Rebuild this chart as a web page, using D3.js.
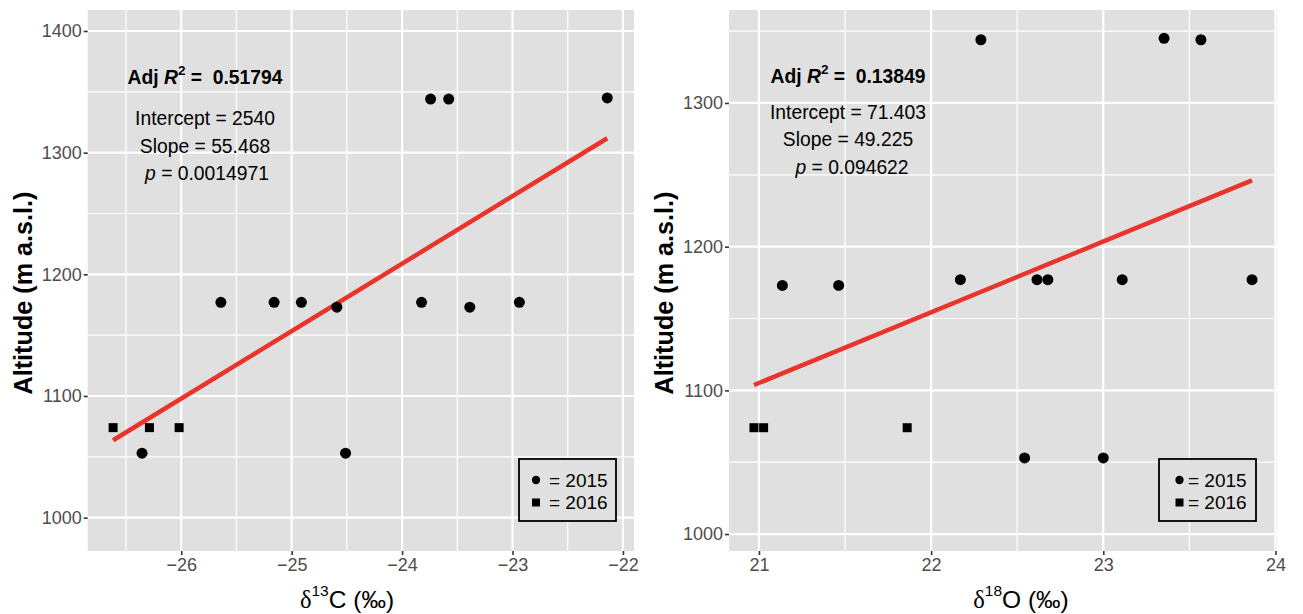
<!DOCTYPE html>
<html>
<head>
<meta charset="utf-8">
<script src="https://cdn.jsdelivr.net/npm/d3@7"></script>
<style>
  html, body { margin: 0; padding: 0; background: #ffffff; }
  svg { display: block; }
  text { font-family: "Liberation Sans", Arial, Helvetica, sans-serif; }
</style>
</head>
<body>
<svg id="chart" width="1303" height="614"></svg>
<script>
// ---------------- DATA ----------------
// Left panel: δ13C vs altitude
const c13_x2015 = [-26.355, -25.641, -25.159, -24.912, -24.591, -24.512, -23.824, -23.742, -23.578, -23.387, -22.938, -22.142];
const c13_y2015 = [1053, 1177, 1177, 1177, 1173, 1053, 1177, 1344, 1344, 1173, 1177, 1345];
const c13_x2016 = [-26.617, -26.288, -26.019];
const c13_y2016 = [1074, 1074, 1074];
const c13_fit = [2540, 55.468];            // intercept, slope
const c13_xTicks = [-26, -25, -24, -23, -22];
const c13_yTicks = [1000, 1100, 1200, 1300, 1400];
const c13_xDomain = [-26.847, -21.9];
const c13_yDomain = [972.6, 1417.25];
const c13_stats = ["0.51794", "2540", "55.468", "0.0014971"];

// Right panel: δ18O vs altitude
const o18_x2015 = [21.136, 21.463, 22.170, 22.289, 22.543, 22.615, 22.678, 23.000, 23.110, 23.353, 23.567, 23.864];
const o18_y2015 = [1173, 1173, 1177, 1344, 1053, 1177, 1177, 1053, 1177, 1345, 1344, 1177];
const o18_x2016 = [20.971, 21.027, 21.861];
const o18_y2016 = [1074, 1074, 1074];
const o18_fit = [71.403, 49.225];
const o18_xTicks = [21, 22, 23, 24];
const o18_yTicks = [1000, 1100, 1200, 1300];
const o18_xDomain = [20.826, 24.009];
const o18_yDomain = [988.2, 1364.7];
const o18_stats = ["0.13849", "71.403", "49.225", "0.094622"];

const legendLabels = ["= 2015", "= 2016"];
const yTitle = "Altitude (m a.s.l.)";

// ---------------- DRAW ----------------
const svg = d3.select("#chart");

const panels = [
  { x2015: c13_x2015, y2015: c13_y2015, x2016: c13_x2016, y2016: c13_y2016, fit: c13_fit,
    xTicks: c13_xTicks, yTicks: c13_yTicks, xDomain: c13_xDomain, yDomain: c13_yDomain, stats: c13_stats,
    box: { x0: 87.7, x1: 634, y0: 10, y1: 551 }, iso: "13", el: "C",
    annX: 205, annY: [77, 118, 146, 173], pX: 207, titleX: 347, ytitleX: 23,
    legend: { x: 519, y: 459, w: 97, h: 62, keyX: 536, textX: 549 } },
  { x2015: o18_x2015, y2015: o18_y2015, x2016: o18_x2016, y2016: o18_y2016, fit: o18_fit,
    xTicks: o18_xTicks, yTicks: o18_yTicks, xDomain: o18_xDomain, yDomain: o18_yDomain, stats: o18_stats,
    box: { x0: 729, x1: 1277, y0: 10, y1: 551 }, iso: "18", el: "O",
    annX: 848, annY: [76, 112, 139, 167], pX: 852, titleX: 1021, ytitleX: 664,
    legend: { x: 1159, y: 459, w: 97, h: 62, keyX: 1179.5, textX: 1188 } }
];

panels.forEach(p => {
  const b = p.box;
  const x = d3.scaleLinear().domain(p.xDomain).range([b.x0, b.x1]);
  const y = d3.scaleLinear().domain(p.yDomain).range([b.y1, b.y0]);
  const g = svg.append("g");

  // panel background
  g.append("rect").attr("x", b.x0).attr("y", b.y0)
    .attr("width", b.x1 - b.x0).attr("height", b.y1 - b.y0).attr("fill", "#e0e0e0");

  // minor grid
  const xMinor = [];
  const xStep = p.xTicks[1] - p.xTicks[0];
  [p.xTicks[0] - xStep].concat(p.xTicks).forEach(t => {
    const m = t + xStep / 2;
    if (m > p.xDomain[0] && m < p.xDomain[1]) xMinor.push(m);
  });
  const yMinor = [];
  const yStep = p.yTicks[1] - p.yTicks[0];
  [p.yTicks[0] - yStep].concat(p.yTicks).forEach(t => {
    const m = t + yStep / 2;
    if (m > p.yDomain[0] && m < p.yDomain[1]) yMinor.push(m);
  });
  g.selectAll(".xminor").data(xMinor).enter().append("line")
    .attr("x1", d => x(d)).attr("x2", d => x(d)).attr("y1", b.y0).attr("y2", b.y1)
    .attr("stroke", "#ffffff").attr("stroke-width", 1.2);
  g.selectAll(".yminor").data(yMinor).enter().append("line")
    .attr("y1", d => y(d)).attr("y2", d => y(d)).attr("x1", b.x0).attr("x2", b.x1)
    .attr("stroke", "#ffffff").attr("stroke-width", 1.2);

  // major grid
  g.selectAll(".xmajor").data(p.xTicks).enter().append("line")
    .attr("x1", d => x(d)).attr("x2", d => x(d)).attr("y1", b.y0).attr("y2", b.y1)
    .attr("stroke", "#ffffff").attr("stroke-width", 2.2);
  g.selectAll(".ymajor").data(p.yTicks).enter().append("line")
    .attr("y1", d => y(d)).attr("y2", d => y(d)).attr("x1", b.x0).attr("x2", b.x1)
    .attr("stroke", "#ffffff").attr("stroke-width", 2.2);

  // axes
  const fmt = d => d < 0 ? "\u2212" + Math.abs(d) : String(d);
  const xAxis = g.append("g").attr("transform", `translate(0,${b.y1})`)
    .call(d3.axisBottom(x).tickValues(p.xTicks).tickFormat(fmt).tickSize(4).tickPadding(3));
  const yAxis = g.append("g").attr("transform", `translate(${b.x0},0)`)
    .call(d3.axisLeft(y).tickValues(p.yTicks).tickFormat(fmt).tickSize(4).tickPadding(2));
  [xAxis, yAxis].forEach(a => {
    a.select(".domain").remove();
    a.selectAll(".tick line").attr("stroke", "#333333").attr("stroke-width", 1.6);
    a.selectAll(".tick text").attr("fill", "#4d4d4d")
      .style("font-family", "'Liberation Sans', Arial, sans-serif").style("font-size", "18px");
  });

  // regression line over data range
  const allX = p.x2015.concat(p.x2016);
  const xr = d3.extent(allX);
  const line = d3.line().x(d => x(d)).y(d => y(p.fit[0] + p.fit[1] * d));
  g.append("path").datum(xr).attr("d", line)
    .attr("stroke", "#e8342b").attr("stroke-width", 4.5).attr("fill", "none");

  // points 2015 (circles)
  g.selectAll(".c").data(p.x2015.map((v, i) => [v, p.y2015[i]])).enter().append("circle")
    .attr("cx", d => x(d[0])).attr("cy", d => y(d[1])).attr("r", 5.5).attr("fill", "#000");
  // points 2016 (squares)
  const s = 9;
  g.selectAll(".s").data(p.x2016.map((v, i) => [v, p.y2016[i]])).enter().append("rect")
    .attr("x", d => x(d[0]) - s / 2).attr("y", d => y(d[1]) - s / 2)
    .attr("width", s).attr("height", s).attr("fill", "#000");

  // annotations
  const fs = "19.3px";
  const t1 = g.append("text").attr("x", p.annX).attr("y", p.annY[0]).attr("text-anchor", "middle")
    .attr("dominant-baseline", "central").style("font-size", fs).style("font-weight", "bold")
    .attr("fill", "#000").style("white-space", "pre");
  t1.append("tspan").text("Adj ");
  t1.append("tspan").style("font-style", "italic").text("R");
  t1.append("tspan").attr("dy", -7).style("font-size", "13.5px").text("2");
  t1.append("tspan").attr("dy", 7).text(" =  " + p.stats[0]);

  g.append("text").attr("x", p.annX).attr("y", p.annY[1]).attr("text-anchor", "middle")
    .attr("dominant-baseline", "central").style("font-size", fs).attr("fill", "#000")
    .text("Intercept = " + p.stats[1]);
  g.append("text").attr("x", p.annX).attr("y", p.annY[2]).attr("text-anchor", "middle")
    .attr("dominant-baseline", "central").style("font-size", fs).attr("fill", "#000")
    .text("Slope = " + p.stats[2]);
  const t4 = g.append("text").attr("x", p.pX).attr("y", p.annY[3]).attr("text-anchor", "middle")
    .attr("dominant-baseline", "central").style("font-size", fs).attr("fill", "#000");
  t4.append("tspan").style("font-style", "italic").text("p");
  t4.append("tspan").text(" = " + p.stats[3]);

  // legend
  const L = p.legend;
  g.append("rect").attr("x", L.x).attr("y", L.y).attr("width", L.w).attr("height", L.h)
    .attr("fill", "#e0e0e0").attr("stroke", "#000").attr("stroke-width", 1.8);
  const rowY = [L.y + 21, L.y + 43.5];
  g.append("circle").attr("cx", L.keyX).attr("cy", rowY[0]).attr("r", 4.2).attr("fill", "#000");
  g.append("rect").attr("x", L.keyX - 4).attr("y", rowY[1] - 4).attr("width", 8).attr("height", 8).attr("fill", "#000");
  legendLabels.forEach((lab, i) => {
    g.append("text").attr("x", L.textX).attr("y", rowY[i]).attr("dominant-baseline", "central")
      .style("font-size", "19px").attr("fill", "#000").text(lab);
  });

  // x title
  const xt = svg.append("text").attr("x", p.titleX).attr("y", 599).attr("text-anchor", "middle")
    .attr("dominant-baseline", "central").style("font-size", "24.5px").attr("fill", "#000");
  xt.append("tspan").style("font-family", "'Liberation Serif', 'Times New Roman', serif").text("\u03B4");
  xt.append("tspan").attr("dy", -9).style("font-size", "15.5px").text(p.iso);
  xt.append("tspan").attr("dy", 9).text(p.el + " (\u2030)");

  // y title
  svg.append("text").attr("transform", `translate(${p.ytitleX},293) rotate(-90)`)
    .attr("text-anchor", "middle").attr("dominant-baseline", "central")
    .style("font-size", "25.2px").style("font-weight", "bold").attr("fill", "#000").text(yTitle);
});
</script>
</body>
</html>
